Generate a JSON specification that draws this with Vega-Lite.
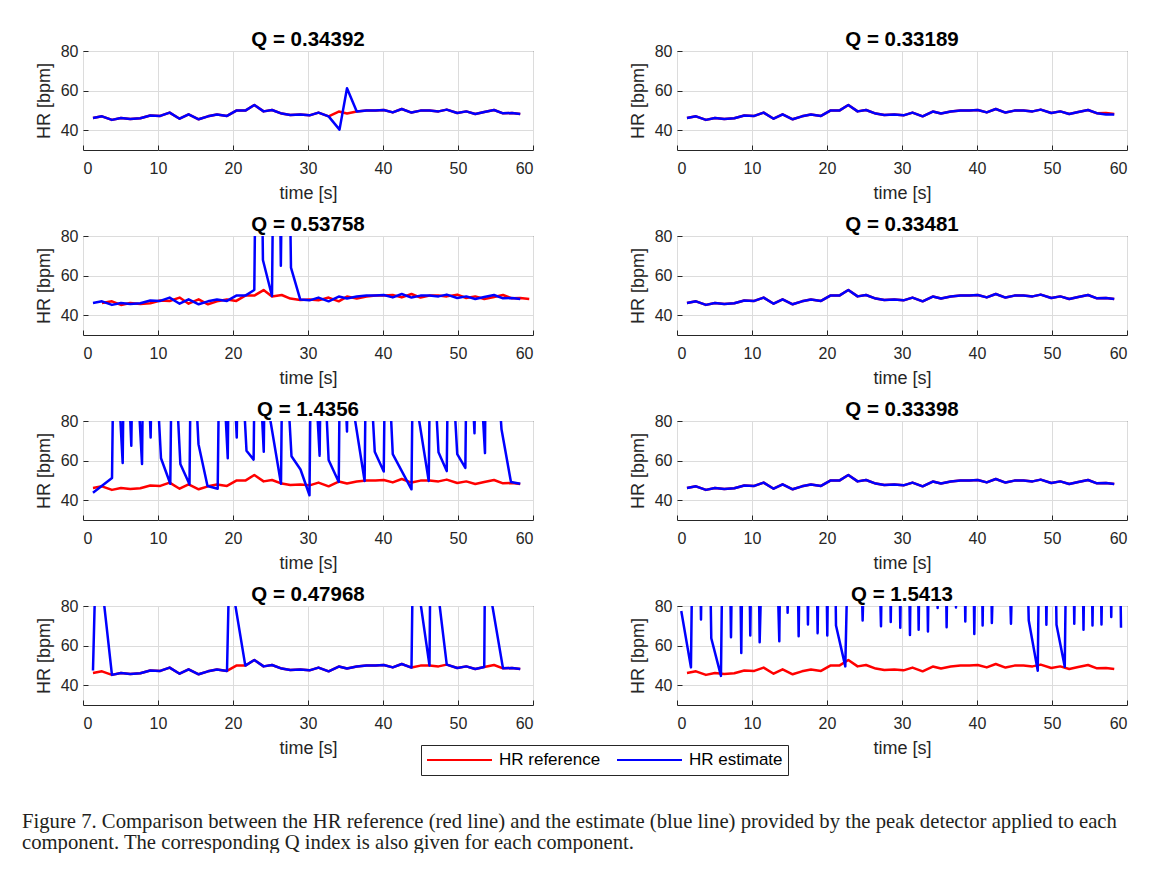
{
"$schema": "https://vega.github.io/schema/vega-lite/v6.json",
"background": "white",
"padding": {"left": 22, "top": 29, "right": 0, "bottom": 0},
"config": {
  "font": "Liberation Sans",
  "view": {"stroke": "#262626", "strokeWidth": 1},
  "axis": {"labelFont": "Liberation Sans", "labelFontSize": 16, "labelColor": "#262626", "titleFont": "Liberation Sans", "titleFontSize": 18, "titleFontWeight": "normal", "titleColor": "#262626", "gridColor": "#dcdcdc", "gridWidth": 1, "domain": false, "ticks": true, "tickSize": -5, "tickColor": "#262626", "tickWidth": 1},
  "axisX": {"labelPadding": 15, "titlePadding": 8},
  "axisY": {"labelPadding": 10, "titlePadding": 7},
  "title": {"font": "Liberation Sans", "fontSize": 20.5, "fontWeight": "bold", "color": "#000000", "offset": -7},
  "legend": {"orient": "none", "legendX": 338, "legendY": 694, "direction": "horizontal", "symbolType": "stroke", "symbolSize": 4225, "symbolStrokeWidth": 2, "clipHeight": 20, "labelFont": "Liberation Sans", "labelFontSize": 17, "labelColor": "#000000", "labelOffset": 6, "columnPadding": 15, "padding": 5, "strokeColor": "#262626", "fillColor": "white", "labelLimit": 300}
},
"datasets": {
  "ref": [{"t":1.33,"hr":46.2},{"t":2.53,"hr":47.0},{"t":3.86,"hr":45.2},{"t":5.06,"hr":46.2},{"t":6.3,"hr":45.7},{"t":7.64,"hr":46.0},{"t":8.97,"hr":47.4},{"t":10.3,"hr":47.2},{"t":11.55,"hr":48.9},{"t":12.88,"hr":45.8},{"t":14.08,"hr":48.0},{"t":15.42,"hr":45.5},{"t":16.66,"hr":47.0},{"t":17.86,"hr":47.9},{"t":19.2,"hr":47.2},{"t":20.44,"hr":49.9},{"t":21.64,"hr":49.9},{"t":22.84,"hr":52.7},{"t":24.08,"hr":49.5},{"t":25.2,"hr":50.2},{"t":26.5,"hr":48.4},{"t":27.64,"hr":47.7},{"t":28.97,"hr":47.9},{"t":30.2,"hr":47.5},{"t":31.4,"hr":48.9},{"t":32.75,"hr":47.0},{"t":34.1,"hr":49.4},{"t":35.2,"hr":48.4},{"t":36.5,"hr":49.4},{"t":37.8,"hr":49.9},{"t":39.0,"hr":49.9},{"t":40.1,"hr":50.2},{"t":41.3,"hr":49.0},{"t":42.5,"hr":50.7},{"t":43.8,"hr":48.9},{"t":45.0,"hr":49.9},{"t":46.2,"hr":49.9},{"t":47.4,"hr":49.5},{"t":48.5,"hr":50.4},{"t":49.9,"hr":48.7},{"t":51.1,"hr":49.5},{"t":52.3,"hr":48.2},{"t":53.5,"hr":49.2},{"t":54.8,"hr":50.2},{"t":56.0,"hr":48.5},{"t":57.2,"hr":48.7},{"t":58.3,"hr":48.2}],
  "ref3": [{"t":2.53,"hr":46.2},{"t":3.86,"hr":47.0},{"t":5.06,"hr":45.2},{"t":6.3,"hr":46.2},{"t":7.64,"hr":45.7},{"t":8.97,"hr":46.0},{"t":10.3,"hr":47.4},{"t":11.55,"hr":47.2},{"t":12.88,"hr":48.9},{"t":14.08,"hr":45.8},{"t":15.42,"hr":48.0},{"t":16.66,"hr":45.5},{"t":17.86,"hr":47.0},{"t":19.2,"hr":47.9},{"t":20.44,"hr":47.2},{"t":21.64,"hr":49.9},{"t":22.84,"hr":49.9},{"t":24.08,"hr":52.7},{"t":25.2,"hr":49.5},{"t":26.5,"hr":50.2},{"t":27.64,"hr":48.4},{"t":28.97,"hr":47.7},{"t":30.2,"hr":47.9},{"t":31.4,"hr":47.5},{"t":32.75,"hr":48.9},{"t":34.1,"hr":47.0},{"t":35.2,"hr":49.4},{"t":36.5,"hr":48.4},{"t":37.8,"hr":49.4},{"t":39.0,"hr":49.9},{"t":40.1,"hr":49.9},{"t":41.3,"hr":50.2},{"t":42.5,"hr":49.0},{"t":43.8,"hr":50.7},{"t":45.0,"hr":48.9},{"t":46.2,"hr":49.9},{"t":47.4,"hr":49.9},{"t":48.5,"hr":49.5},{"t":49.9,"hr":50.4},{"t":51.1,"hr":48.7},{"t":52.3,"hr":49.5},{"t":53.5,"hr":48.2},{"t":54.8,"hr":49.2},{"t":56.0,"hr":50.2},{"t":57.2,"hr":48.5},{"t":58.3,"hr":48.7},{"t":59.5,"hr":48.2}],
  "est1": [{"t":1.33,"hr":46.2},{"t":2.53,"hr":47.0},{"t":3.86,"hr":45.2},{"t":5.06,"hr":46.2},{"t":6.3,"hr":45.7},{"t":7.64,"hr":46.0},{"t":8.97,"hr":47.4},{"t":10.3,"hr":47.2},{"t":11.55,"hr":48.9},{"t":12.88,"hr":45.8},{"t":14.08,"hr":48.0},{"t":15.42,"hr":45.5},{"t":16.66,"hr":47.0},{"t":17.86,"hr":47.9},{"t":19.2,"hr":47.2},{"t":20.44,"hr":49.9},{"t":21.64,"hr":49.9},{"t":22.84,"hr":52.7},{"t":24.08,"hr":49.5},{"t":25.2,"hr":50.2},{"t":26.5,"hr":48.4},{"t":27.64,"hr":47.7},{"t":28.97,"hr":47.9},{"t":30.2,"hr":47.5},{"t":31.4,"hr":48.9},{"t":32.75,"hr":47.0},{"t":34.2,"hr":40.3},{"t":35.2,"hr":61.2},{"t":36.5,"hr":49.4},{"t":37.8,"hr":49.9},{"t":39.0,"hr":49.9},{"t":40.1,"hr":50.2},{"t":41.3,"hr":49.0},{"t":42.5,"hr":50.7},{"t":43.8,"hr":48.9},{"t":45.0,"hr":49.9},{"t":46.2,"hr":49.9},{"t":47.4,"hr":49.5},{"t":48.5,"hr":50.4},{"t":49.9,"hr":48.7},{"t":51.1,"hr":49.5},{"t":52.3,"hr":48.2},{"t":53.5,"hr":49.2},{"t":54.8,"hr":50.2},{"t":56.0,"hr":48.5},{"t":57.2,"hr":48.7},{"t":58.3,"hr":48.2}],
  "est2": [{"t":1.33,"hr":46.2},{"t":2.53,"hr":47.0},{"t":3.86,"hr":45.2},{"t":5.06,"hr":46.2},{"t":6.3,"hr":45.7},{"t":7.64,"hr":46.0},{"t":8.97,"hr":47.4},{"t":10.3,"hr":47.2},{"t":11.55,"hr":48.9},{"t":12.88,"hr":45.8},{"t":14.08,"hr":48.0},{"t":15.42,"hr":45.5},{"t":16.66,"hr":47.0},{"t":17.86,"hr":47.9},{"t":19.2,"hr":47.2},{"t":20.44,"hr":49.9},{"t":21.64,"hr":49.9},{"t":22.84,"hr":52.7},{"t":24.08,"hr":49.5},{"t":25.2,"hr":50.2},{"t":26.5,"hr":48.4},{"t":27.64,"hr":47.7},{"t":28.97,"hr":47.9},{"t":30.2,"hr":47.5},{"t":31.4,"hr":48.9},{"t":32.75,"hr":47.0},{"t":34.1,"hr":49.4},{"t":35.2,"hr":48.4},{"t":36.5,"hr":49.4},{"t":37.8,"hr":49.9},{"t":39.0,"hr":49.9},{"t":40.1,"hr":50.2},{"t":41.3,"hr":49.0},{"t":42.5,"hr":50.7},{"t":43.8,"hr":48.9},{"t":45.0,"hr":49.9},{"t":46.2,"hr":49.9},{"t":47.4,"hr":49.5},{"t":48.5,"hr":50.4},{"t":49.9,"hr":48.7},{"t":51.1,"hr":49.5},{"t":52.3,"hr":48.2},{"t":53.5,"hr":49.2},{"t":54.8,"hr":50.2},{"t":56.0,"hr":48.6},{"t":57.2,"hr":47.9},{"t":58.3,"hr":47.9}],
  "est3": [{"t":1.33,"hr":46.2},{"t":2.53,"hr":47.0},{"t":3.86,"hr":45.2},{"t":5.06,"hr":46.2},{"t":6.3,"hr":45.7},{"t":7.64,"hr":46.0},{"t":8.97,"hr":47.4},{"t":10.3,"hr":47.2},{"t":11.55,"hr":48.9},{"t":12.88,"hr":45.8},{"t":14.08,"hr":48.0},{"t":15.42,"hr":45.5},{"t":16.66,"hr":47.0},{"t":17.86,"hr":47.9},{"t":19.2,"hr":47.2},{"t":20.44,"hr":49.9},{"t":21.64,"hr":49.9},{"t":22.84,"hr":52.7},{"t":23.4,"hr":260},{"t":23.99,"hr":67.9},{"t":25.2,"hr":49.7},{"t":25.75,"hr":260},{"t":26.38,"hr":65.0},{"t":27.0,"hr":260},{"t":27.73,"hr":64.0},{"t":28.97,"hr":47.9},{"t":30.2,"hr":47.5},{"t":31.4,"hr":48.9},{"t":32.75,"hr":47.0},{"t":34.1,"hr":49.4},{"t":35.2,"hr":48.4},{"t":36.5,"hr":49.4},{"t":37.8,"hr":49.9},{"t":39.0,"hr":49.9},{"t":40.1,"hr":50.2},{"t":41.3,"hr":49.0},{"t":42.5,"hr":50.7},{"t":43.8,"hr":48.9},{"t":45.0,"hr":49.9},{"t":46.2,"hr":49.9},{"t":47.4,"hr":49.5},{"t":48.5,"hr":50.4},{"t":49.9,"hr":48.7},{"t":51.1,"hr":49.5},{"t":52.3,"hr":48.2},{"t":53.5,"hr":49.2},{"t":54.8,"hr":50.2},{"t":56.0,"hr":48.5},{"t":57.2,"hr":48.7},{"t":58.3,"hr":48.2}],
  "est5": [{"t":1.33,"hr":43.8},{"t":3.87,"hr":51.2},{"t":4.15,"hr":140},{"t":5.29,"hr":58.8},{"t":5.55,"hr":150},{"t":6.44,"hr":67.5},{"t":6.7,"hr":140},{"t":7.87,"hr":58.3},{"t":8.15,"hr":160},{"t":9.02,"hr":71.7},{"t":9.3,"hr":140},{"t":10.4,"hr":61.2},{"t":11.64,"hr":48.3},{"t":11.9,"hr":140},{"t":12.98,"hr":58.3},{"t":14.2,"hr":48.0},{"t":14.45,"hr":140},{"t":15.4,"hr":68.3},{"t":16.6,"hr":47.2},{"t":17.96,"hr":45.8},{"t":18.25,"hr":140},{"t":19.3,"hr":61.2},{"t":19.55,"hr":150},{"t":20.5,"hr":71.7},{"t":20.75,"hr":140},{"t":21.8,"hr":65.0},{"t":22.75,"hr":60.5},{"t":23.0,"hr":150},{"t":24.1,"hr":64.5},{"t":24.2,"hr":98},{"t":26.4,"hr":48.3},{"t":26.65,"hr":140},{"t":27.8,"hr":62.2},{"t":29.0,"hr":55.5},{"t":30.2,"hr":42.5},{"t":30.45,"hr":140},{"t":31.55,"hr":62.5},{"t":31.8,"hr":140},{"t":32.75,"hr":60.3},{"t":34.1,"hr":49.2},{"t":34.35,"hr":150},{"t":35.2,"hr":74.7},{"t":35.3,"hr":104},{"t":37.55,"hr":49.7},{"t":37.8,"hr":140},{"t":38.9,"hr":64.5},{"t":40.1,"hr":54.5},{"t":40.35,"hr":140},{"t":41.3,"hr":63.3},{"t":43.8,"hr":45.5},{"t":43.95,"hr":101},{"t":46.1,"hr":49.7},{"t":46.35,"hr":140},{"t":47.4,"hr":64.2},{"t":48.5,"hr":54.7},{"t":48.75,"hr":140},{"t":49.9,"hr":63.3},{"t":50.98,"hr":56.3},{"t":51.25,"hr":150},{"t":52.2,"hr":73.8},{"t":52.45,"hr":140},{"t":53.6,"hr":63.8},{"t":53.8,"hr":190},{"t":55.8,"hr":75.8},{"t":57.06,"hr":49.2},{"t":58.3,"hr":48.3}],
  "est7": [{"t":1.33,"hr":47.4},{"t":1.79,"hr":116},{"t":3.86,"hr":45.2},{"t":5.06,"hr":46.2},{"t":6.3,"hr":45.7},{"t":7.64,"hr":46.0},{"t":8.97,"hr":47.4},{"t":10.3,"hr":47.2},{"t":11.55,"hr":48.9},{"t":12.88,"hr":45.8},{"t":14.08,"hr":48.0},{"t":15.42,"hr":45.5},{"t":16.66,"hr":47.0},{"t":17.86,"hr":47.9},{"t":19.2,"hr":47.2},{"t":19.5,"hr":99},{"t":21.64,"hr":49.9},{"t":22.84,"hr":52.7},{"t":24.08,"hr":49.5},{"t":25.2,"hr":50.2},{"t":26.5,"hr":48.4},{"t":27.64,"hr":47.7},{"t":28.97,"hr":47.9},{"t":30.2,"hr":47.5},{"t":31.4,"hr":48.9},{"t":32.75,"hr":47.0},{"t":34.1,"hr":49.4},{"t":35.2,"hr":48.4},{"t":36.5,"hr":49.4},{"t":37.8,"hr":49.9},{"t":39.0,"hr":49.9},{"t":40.1,"hr":50.2},{"t":41.3,"hr":49.0},{"t":42.5,"hr":50.7},{"t":43.8,"hr":48.9},{"t":44.0,"hr":108},{"t":46.2,"hr":49.9},{"t":46.35,"hr":118},{"t":48.5,"hr":50.4},{"t":49.9,"hr":48.7},{"t":51.1,"hr":49.5},{"t":52.3,"hr":48.2},{"t":53.5,"hr":49.2},{"t":53.6,"hr":102},{"t":56.0,"hr":48.5},{"t":57.2,"hr":48.7},{"t":58.3,"hr":48.2}],
  "est8": [{"t":0.57,"hr":77.5},{"t":1.86,"hr":49.0},{"t":2.5,"hr":250},{"t":3.2,"hr":73.2},{"t":3.8,"hr":250},{"t":4.57,"hr":63.7},{"t":5.86,"hr":44.7},{"t":6.5,"hr":250},{"t":7.2,"hr":64.2},{"t":7.9,"hr":250},{"t":8.57,"hr":56.3},{"t":9.15,"hr":250},{"t":9.77,"hr":65.1},{"t":10.4,"hr":250},{"t":11.02,"hr":61.7},{"t":12.3,"hr":250},{"t":13.64,"hr":62.2},{"t":14.2,"hr":250},{"t":14.75,"hr":76.6},{"t":15.5,"hr":250},{"t":16.22,"hr":64.7},{"t":16.85,"hr":250},{"t":17.46,"hr":70.7},{"t":18.1,"hr":250},{"t":18.75,"hr":66.3},{"t":19.4,"hr":250},{"t":20.04,"hr":65.1},{"t":20.6,"hr":250},{"t":21.2,"hr":70.2},{"t":22.44,"hr":49.5},{"t":23.6,"hr":250},{"t":24.75,"hr":72.7},{"t":26.0,"hr":250},{"t":27.2,"hr":69.8},{"t":27.85,"hr":250},{"t":28.5,"hr":71.9},{"t":29.15,"hr":250},{"t":29.77,"hr":69.0},{"t":30.4,"hr":250},{"t":31.06,"hr":65.4},{"t":31.65,"hr":250},{"t":32.22,"hr":68.0},{"t":32.85,"hr":250},{"t":33.46,"hr":67.1},{"t":34.1,"hr":250},{"t":34.75,"hr":79.0},{"t":35.35,"hr":250},{"t":35.95,"hr":69.3},{"t":36.6,"hr":250},{"t":37.2,"hr":79.3},{"t":37.8,"hr":250},{"t":38.44,"hr":72.2},{"t":39.05,"hr":250},{"t":39.64,"hr":65.9},{"t":40.2,"hr":250},{"t":40.75,"hr":70.2},{"t":41.35,"hr":250},{"t":41.98,"hr":71.4},{"t":43.25,"hr":250},{"t":44.53,"hr":71.0},{"t":45.7,"hr":250},{"t":46.9,"hr":72.7},{"t":48.1,"hr":47.3},{"t":48.7,"hr":250},{"t":49.25,"hr":70.5},{"t":49.9,"hr":250},{"t":50.6,"hr":70.5},{"t":51.7,"hr":49.3},{"t":52.35,"hr":250},{"t":52.97,"hr":71.0},{"t":53.6,"hr":250},{"t":54.2,"hr":68.0},{"t":54.8,"hr":250},{"t":55.4,"hr":70.2},{"t":56.0,"hr":250},{"t":56.6,"hr":70.7},{"t":57.25,"hr":250},{"t":57.9,"hr":74.4},{"t":58.55,"hr":250},{"t":59.2,"hr":69.0}]
},
"columns": 2,
"spacing": {"row": 86, "column": 144},
"bounds": "flush",
"resolve": {"scale": {"color": "shared"}, "legend": {"color": "shared"}},
"title": {"text": ["Figure 7. Comparison between the HR reference (red line) and the estimate (blue line) provided by the peak detector applied to each", "component. The corresponding Q index is also given for each component."], "orient": "bottom", "anchor": "start", "frame": "group", "dx": -61, "offset": 36, "font": "Liberation Serif", "fontSize": 20.7, "fontWeight": "normal", "color": "#231f20", "lineHeight": 21},
"concat": [
 {"title": "Q = 0.34392", "width": 450, "height": 99,
  "encoding": {"x": {"field": "t", "type": "quantitative", "scale": {"domain": [0, 60], "nice": false, "zero": false}, "axis": {"values": [0, 10, 20, 30, 40, 50, 60], "title": "time [s]"}}, "y": {"field": "hr", "type": "quantitative", "scale": {"domain": [30, 80], "nice": false, "zero": false}, "axis": {"values": [40, 60, 80], "title": "HR [bpm]"}}},
  "layer": [
   {"data": {"name": "ref"}, "mark": {"type": "line", "clip": true, "strokeWidth": 2.5, "strokeJoin": "round"}, "encoding": {"color": {"datum": "HR reference", "type": "nominal", "title": null, "scale": {"domain": ["HR reference", "HR estimate"], "range": ["#ff0000", "#0000ff"]}}}},
   {"data": {"name": "est1"}, "mark": {"type": "line", "clip": true, "strokeWidth": 2.5, "strokeJoin": "round"}, "encoding": {"color": {"datum": "HR estimate", "type": "nominal", "title": null, "scale": {"domain": ["HR reference", "HR estimate"], "range": ["#ff0000", "#0000ff"]}}}}
  ]},
 {"title": "Q = 0.33189", "width": 450, "height": 99,
  "encoding": {"x": {"field": "t", "type": "quantitative", "scale": {"domain": [0, 60], "nice": false, "zero": false}, "axis": {"values": [0, 10, 20, 30, 40, 50, 60], "title": "time [s]"}}, "y": {"field": "hr", "type": "quantitative", "scale": {"domain": [30, 80], "nice": false, "zero": false}, "axis": {"values": [40, 60, 80], "title": "HR [bpm]"}}},
  "layer": [
   {"data": {"name": "ref"}, "mark": {"type": "line", "clip": true, "strokeWidth": 2.5, "strokeJoin": "round"}, "encoding": {"color": {"datum": "HR reference", "type": "nominal", "title": null, "scale": {"domain": ["HR reference", "HR estimate"], "range": ["#ff0000", "#0000ff"]}}}},
   {"data": {"name": "est2"}, "mark": {"type": "line", "clip": true, "strokeWidth": 2.5, "strokeJoin": "round"}, "encoding": {"color": {"datum": "HR estimate", "type": "nominal", "title": null, "scale": {"domain": ["HR reference", "HR estimate"], "range": ["#ff0000", "#0000ff"]}}}}
  ]},
 {"title": "Q = 0.53758", "width": 450, "height": 99,
  "encoding": {"x": {"field": "t", "type": "quantitative", "scale": {"domain": [0, 60], "nice": false, "zero": false}, "axis": {"values": [0, 10, 20, 30, 40, 50, 60], "title": "time [s]"}}, "y": {"field": "hr", "type": "quantitative", "scale": {"domain": [30, 80], "nice": false, "zero": false}, "axis": {"values": [40, 60, 80], "title": "HR [bpm]"}}},
  "layer": [
   {"data": {"name": "ref3"}, "mark": {"type": "line", "clip": true, "strokeWidth": 2.5, "strokeJoin": "round"}, "encoding": {"color": {"datum": "HR reference", "type": "nominal", "title": null, "scale": {"domain": ["HR reference", "HR estimate"], "range": ["#ff0000", "#0000ff"]}}}},
   {"data": {"name": "est3"}, "mark": {"type": "line", "clip": true, "strokeWidth": 2.5, "strokeJoin": "round"}, "encoding": {"color": {"datum": "HR estimate", "type": "nominal", "title": null, "scale": {"domain": ["HR reference", "HR estimate"], "range": ["#ff0000", "#0000ff"]}}}}
  ]},
 {"title": "Q = 0.33481", "width": 450, "height": 99,
  "encoding": {"x": {"field": "t", "type": "quantitative", "scale": {"domain": [0, 60], "nice": false, "zero": false}, "axis": {"values": [0, 10, 20, 30, 40, 50, 60], "title": "time [s]"}}, "y": {"field": "hr", "type": "quantitative", "scale": {"domain": [30, 80], "nice": false, "zero": false}, "axis": {"values": [40, 60, 80], "title": "HR [bpm]"}}},
  "layer": [
   {"data": {"name": "ref"}, "mark": {"type": "line", "clip": true, "strokeWidth": 2.5, "strokeJoin": "round"}, "encoding": {"color": {"datum": "HR reference", "type": "nominal", "title": null, "scale": {"domain": ["HR reference", "HR estimate"], "range": ["#ff0000", "#0000ff"]}}}},
   {"data": {"name": "ref"}, "mark": {"type": "line", "clip": true, "strokeWidth": 2.5, "strokeJoin": "round"}, "encoding": {"color": {"datum": "HR estimate", "type": "nominal", "title": null, "scale": {"domain": ["HR reference", "HR estimate"], "range": ["#ff0000", "#0000ff"]}}}}
  ]},
 {"title": "Q = 1.4356", "width": 450, "height": 99,
  "encoding": {"x": {"field": "t", "type": "quantitative", "scale": {"domain": [0, 60], "nice": false, "zero": false}, "axis": {"values": [0, 10, 20, 30, 40, 50, 60], "title": "time [s]"}}, "y": {"field": "hr", "type": "quantitative", "scale": {"domain": [30, 80], "nice": false, "zero": false}, "axis": {"values": [40, 60, 80], "title": "HR [bpm]"}}},
  "layer": [
   {"data": {"name": "ref"}, "mark": {"type": "line", "clip": true, "strokeWidth": 2.5, "strokeJoin": "round"}, "encoding": {"color": {"datum": "HR reference", "type": "nominal", "title": null, "scale": {"domain": ["HR reference", "HR estimate"], "range": ["#ff0000", "#0000ff"]}}}},
   {"data": {"name": "est5"}, "mark": {"type": "line", "clip": true, "strokeWidth": 2.5, "strokeJoin": "round"}, "encoding": {"color": {"datum": "HR estimate", "type": "nominal", "title": null, "scale": {"domain": ["HR reference", "HR estimate"], "range": ["#ff0000", "#0000ff"]}}}}
  ]},
 {"title": "Q = 0.33398", "width": 450, "height": 99,
  "encoding": {"x": {"field": "t", "type": "quantitative", "scale": {"domain": [0, 60], "nice": false, "zero": false}, "axis": {"values": [0, 10, 20, 30, 40, 50, 60], "title": "time [s]"}}, "y": {"field": "hr", "type": "quantitative", "scale": {"domain": [30, 80], "nice": false, "zero": false}, "axis": {"values": [40, 60, 80], "title": "HR [bpm]"}}},
  "layer": [
   {"data": {"name": "ref"}, "mark": {"type": "line", "clip": true, "strokeWidth": 2.5, "strokeJoin": "round"}, "encoding": {"color": {"datum": "HR reference", "type": "nominal", "title": null, "scale": {"domain": ["HR reference", "HR estimate"], "range": ["#ff0000", "#0000ff"]}}}},
   {"data": {"name": "ref"}, "mark": {"type": "line", "clip": true, "strokeWidth": 2.5, "strokeJoin": "round"}, "encoding": {"color": {"datum": "HR estimate", "type": "nominal", "title": null, "scale": {"domain": ["HR reference", "HR estimate"], "range": ["#ff0000", "#0000ff"]}}}}
  ]},
 {"title": "Q = 0.47968", "width": 450, "height": 99,
  "encoding": {"x": {"field": "t", "type": "quantitative", "scale": {"domain": [0, 60], "nice": false, "zero": false}, "axis": {"values": [0, 10, 20, 30, 40, 50, 60], "title": "time [s]"}}, "y": {"field": "hr", "type": "quantitative", "scale": {"domain": [30, 80], "nice": false, "zero": false}, "axis": {"values": [40, 60, 80], "title": "HR [bpm]"}}},
  "layer": [
   {"data": {"name": "ref"}, "mark": {"type": "line", "clip": true, "strokeWidth": 2.5, "strokeJoin": "round"}, "encoding": {"color": {"datum": "HR reference", "type": "nominal", "title": null, "scale": {"domain": ["HR reference", "HR estimate"], "range": ["#ff0000", "#0000ff"]}}}},
   {"data": {"name": "est7"}, "mark": {"type": "line", "clip": true, "strokeWidth": 2.5, "strokeJoin": "round"}, "encoding": {"color": {"datum": "HR estimate", "type": "nominal", "title": null, "scale": {"domain": ["HR reference", "HR estimate"], "range": ["#ff0000", "#0000ff"]}}}}
  ]},
 {"title": "Q = 1.5413", "width": 450, "height": 99,
  "encoding": {"x": {"field": "t", "type": "quantitative", "scale": {"domain": [0, 60], "nice": false, "zero": false}, "axis": {"values": [0, 10, 20, 30, 40, 50, 60], "title": "time [s]"}}, "y": {"field": "hr", "type": "quantitative", "scale": {"domain": [30, 80], "nice": false, "zero": false}, "axis": {"values": [40, 60, 80], "title": "HR [bpm]"}}},
  "layer": [
   {"data": {"name": "ref"}, "mark": {"type": "line", "clip": true, "strokeWidth": 2.5, "strokeJoin": "round"}, "encoding": {"color": {"datum": "HR reference", "type": "nominal", "title": null, "scale": {"domain": ["HR reference", "HR estimate"], "range": ["#ff0000", "#0000ff"]}}}},
   {"data": {"name": "est8"}, "mark": {"type": "line", "clip": true, "strokeWidth": 2.5, "strokeJoin": "round"}, "encoding": {"color": {"datum": "HR estimate", "type": "nominal", "title": null, "scale": {"domain": ["HR reference", "HR estimate"], "range": ["#ff0000", "#0000ff"]}}}}
  ]}
]
}
